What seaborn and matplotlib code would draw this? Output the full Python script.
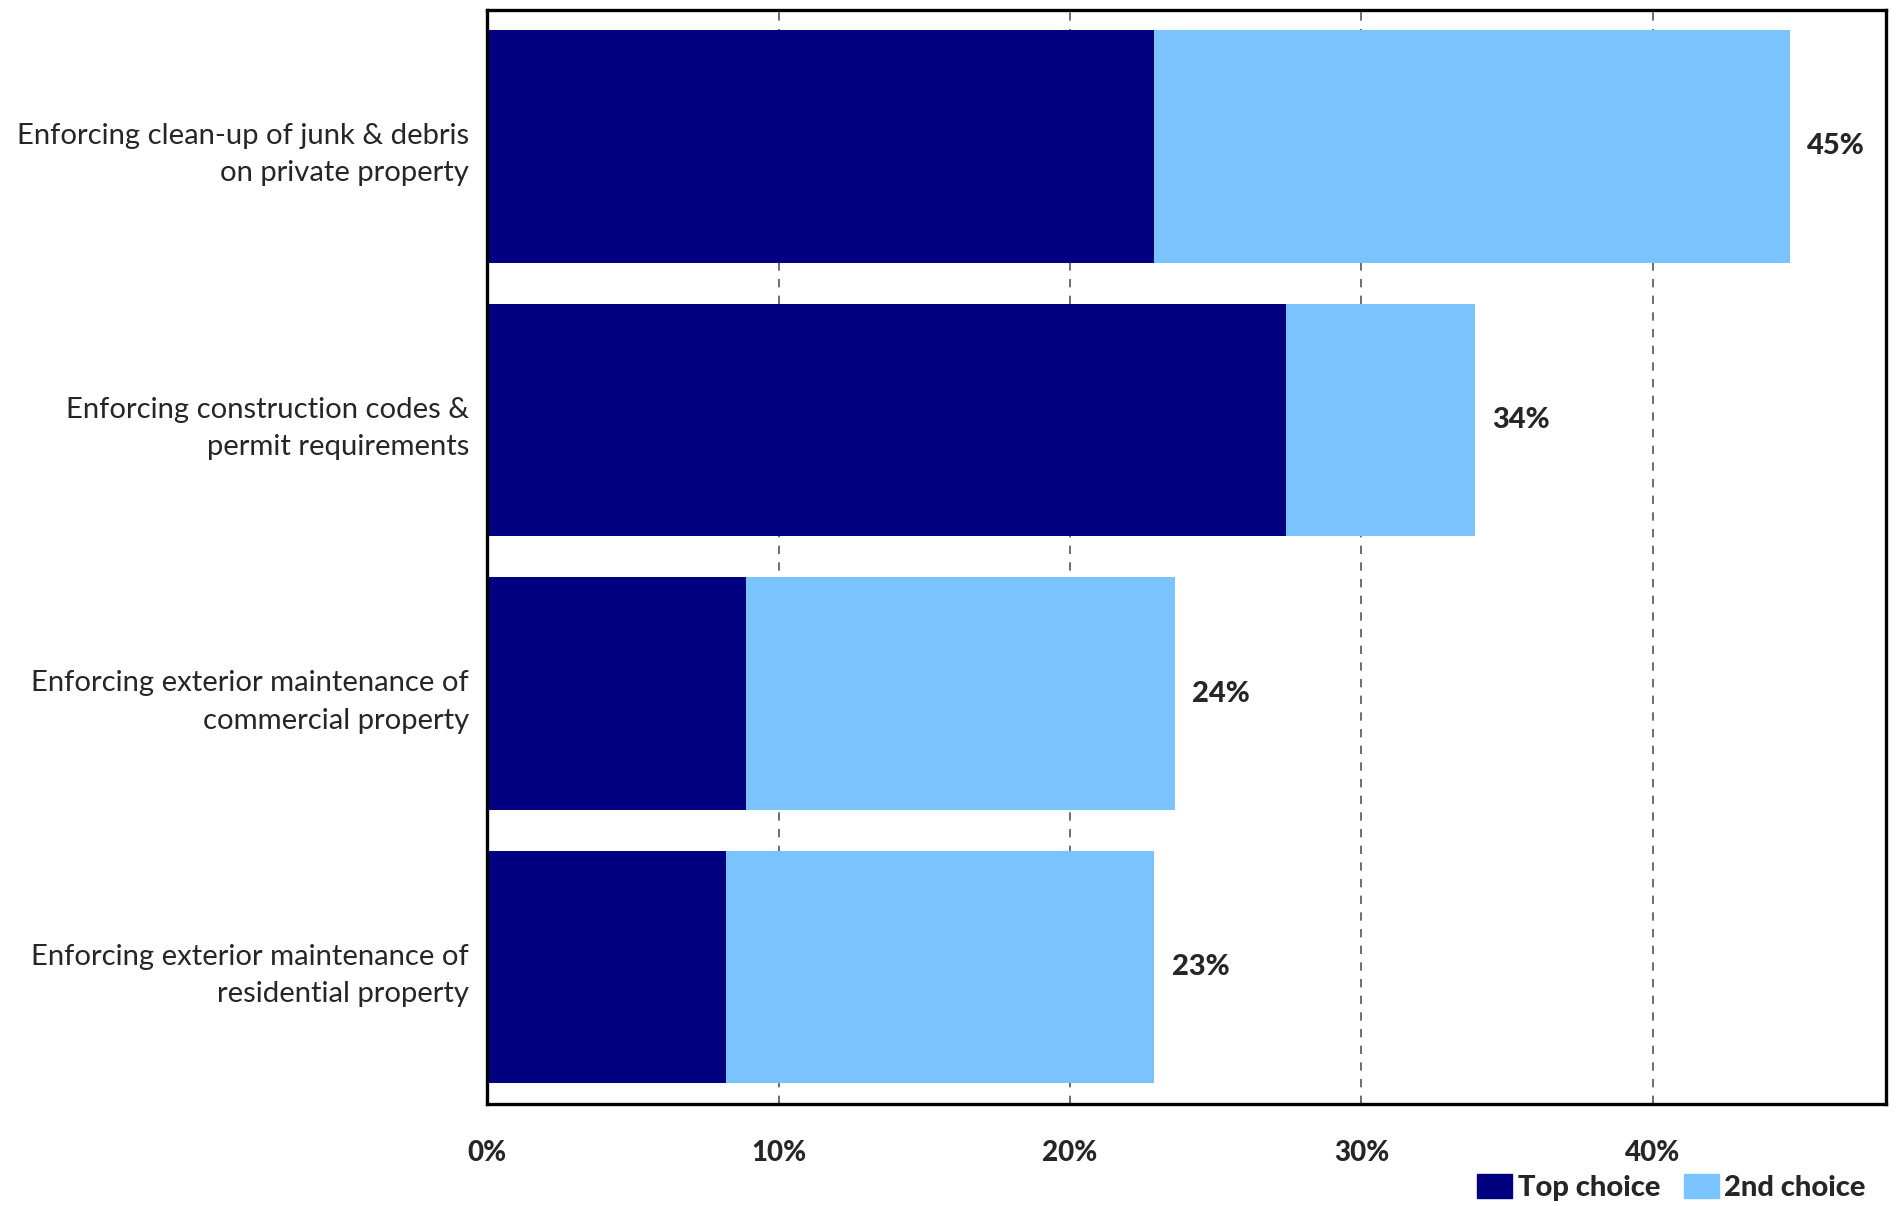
import pandas as pd
import matplotlib.pyplot as plt
import seaborn as sns
from matplotlib.patches import Patch

sns.set_style('white')
plt.rcParams['font.family'] = ['Lato', 'DejaVu Sans']

# Data
categories = [
    'Enforcing clean-up of junk & debris\non private property',
    'Enforcing construction codes &\npermit requirements',
    'Enforcing exterior maintenance of\ncommercial property',
    'Enforcing exterior maintenance of\nresidential property',
]
top_choice = [22.9, 27.4, 8.9, 8.2]
second_choice = [21.8, 6.5, 14.7, 14.7]
total_labels = ['45%', '34%', '24%', '23%']

df = pd.DataFrame({'Category': categories, 'Top': top_choice, 'Second': second_choice})
df['Total'] = df['Top'] + df['Second']

navy = '#000080'
light = '#7BC3FF'

fig = plt.figure(figsize=(18.96, 12.06), dpi=100)
ax = fig.add_axes([0.2569, 0.0846, 0.7378, 0.9074])

# stacked bars: total first (light), top choice drawn over it
sns.barplot(data=df, x='Total', y='Category', orient='h', color=light,
            width=0.85, saturation=1, linewidth=0, ax=ax)
sns.barplot(data=df, x='Top', y='Category', orient='h', color=navy,
            width=0.85, saturation=1, linewidth=0, ax=ax)

# total labels to the right of each bar
for i, row in df.iterrows():
    ax.text(row['Total'] + 0.6, i, total_labels[i], fontsize=21, fontweight='black',
            ha='left', va='center')

ax.set_xlim(0, 48)
ax.set_ylim(3.5, -0.5)
ax.set_xticks([0, 10, 20, 30, 40])
ax.set_xticklabels(['0%', '10%', '20%', '30%', '40%'], fontsize=20, fontweight='black')
ax.tick_params(axis='x', length=0, pad=26)
ax.tick_params(axis='y', length=0, pad=13, labelsize=21.1)
for lab in ax.get_yticklabels():
    lab.set_multialignment('right')
    lab.set_linespacing(1.55)
ax.set_xlabel('')
ax.set_ylabel('')

ax.grid(axis='x', linestyle=(0, (5, 5)), color='#555555', linewidth=1.2)
ax.set_axisbelow(True)
for s in ax.spines.values():
    s.set_visible(True)
    s.set_color('black')
    s.set_linewidth(2.4)

handles = [Patch(color=navy, label='Top choice'), Patch(color=light, label='2nd choice')]
leg = fig.legend(handles=handles, loc='lower right', bbox_to_anchor=(0.998, -0.018), ncol=2,
                 frameon=False, prop={'weight': 'black', 'size': 21},
                 handlelength=1.2, handleheight=0.9, handletextpad=0.2, columnspacing=0.8)

plt.savefig('out.png', dpi=100)
